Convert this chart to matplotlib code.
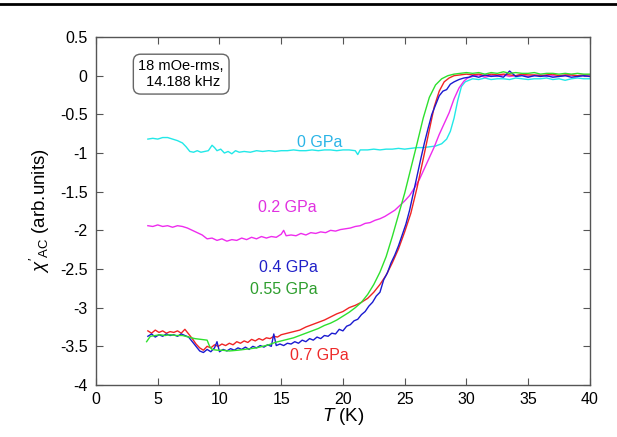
import matplotlib
matplotlib.use("Agg")
import matplotlib.pyplot as plt
from matplotlib.lines import Line2D
from matplotlib.ticker import FormatStrFormatter, MultipleLocator

plt.rcParams["font.family"] = ["Liberation Sans", "DejaVu Sans"]
plt.rcParams["mathtext.fontset"] = "custom"
plt.rcParams["mathtext.rm"] = "Liberation Sans"
plt.rcParams["mathtext.it"] = "Liberation Sans:italic"
plt.rcParams["axes.unicode_minus"] = False

# plateau above Tc, shared temperature grid
T_plateau = [30.5, 31, 31.5, 32, 32.5, 33, 33.5, 34, 34.5, 35,
             35.5, 36, 36.5, 37, 37.5, 38, 38.5, 39, 39.5, 40]

# 0 GPa (cyan)
T_0 = [4.2, 4.6, 5.0, 5.4, 5.8, 6.2, 6.6, 7.0, 7.3, 7.6, 7.9, 8.2, 8.5, 8.8, 9.1,
       9.4, 9.6, 9.8, 10.1, 10.4, 10.7, 11.0, 11.3, 11.6, 12.0, 12.5, 13, 13.5, 14,
       14.5, 15, 15.5, 16, 16.5, 17, 17.5, 18, 18.5, 19, 19.5, 20, 20.5, 21, 21.2,
       21.4, 22, 22.5, 23, 23.5, 24, 24.5, 25, 25.5, 26, 26.5, 27, 27.5, 28, 28.4,
       28.7, 29, 29.3, 29.6, 29.9, 30.2] + T_plateau
chi_0 = [-0.82, -0.81, -0.82, -0.80, -0.80, -0.82, -0.84, -0.87, -0.92, -0.98, -0.99,
         -0.97, -0.99, -0.98, -0.97, -0.90, -0.93, -0.97, -0.95, -1.00, -0.98, -1.01,
         -0.97, -0.99, -0.98, -0.99, -0.97, -0.98, -0.97, -0.98, -0.97, -0.97, -0.96,
         -0.97, -0.97, -0.96, -0.97, -0.96, -0.96, -0.97, -0.96, -0.96, -0.97, -1.02,
         -0.96, -0.96, -0.95, -0.96, -0.95, -0.95, -0.94, -0.95, -0.94, -0.93, -0.93,
         -0.92, -0.91, -0.88, -0.82, -0.72, -0.55, -0.32, -0.14, -0.08, -0.06,
         -0.04, -0.05, -0.03, -0.05, -0.04, -0.04, -0.05, -0.03, -0.04, -0.05,
         -0.04, -0.04, -0.03, -0.05, -0.04, -0.06, -0.04, -0.03, -0.04, -0.04]

# 0.2 GPa (magenta)
T_02 = [4.2, 4.6, 5.0, 5.4, 5.8, 6.2, 6.6, 7.0, 7.4, 7.8, 8.2, 8.6, 9.0, 9.4, 9.8,
        10.2, 10.6, 11.0, 11.4, 11.8, 12.2, 12.6, 13.0, 13.4, 13.8, 14.2, 14.6, 15.0,
        15.2, 15.4, 15.8, 16.2, 16.6, 17.0, 17.4, 17.8, 18.2, 18.6, 19.0, 19.4, 19.8,
        20.2, 20.6, 21.0, 21.4, 21.8, 22.2, 22.6, 23.0, 23.4, 23.8, 24.2, 24.6, 25.0,
        25.4, 25.8, 26.2, 26.6, 27.0, 27.4, 27.8, 28.2, 28.6, 29.0, 29.4, 29.8,
        30.1] + T_plateau
chi_02 = [-1.94, -1.95, -1.93, -1.95, -1.94, -1.96, -1.94, -1.95, -1.97, -2.00, -2.03,
          -2.06, -2.11, -2.10, -2.13, -2.11, -2.14, -2.12, -2.13, -2.10, -2.12, -2.09,
          -2.11, -2.08, -2.10, -2.08, -2.09, -2.05, -2.00, -2.07, -2.06, -2.07, -2.04,
          -2.06, -2.03, -2.04, -2.02, -2.03, -2.00, -2.01, -1.99, -1.98, -1.97, -1.95,
          -1.94, -1.91, -1.90, -1.87, -1.85, -1.82, -1.78, -1.74, -1.68, -1.62, -1.55,
          -1.45, -1.34, -1.20, -1.06, -0.92, -0.76, -0.62, -0.48, -0.30, -0.16, -0.07,
          -0.03,
          -0.01, 0.01, -0.02, 0.00, -0.01, 0.01, -0.01, 0.00, 0.01, -0.01,
          0.00, 0.01, -0.01, 0.00, -0.01, 0.00, 0.01, -0.01, 0.00, -0.01]

# 0.4 GPa (blue)
T_04 = [4.2, 4.5, 4.8, 5.1, 5.4, 5.7, 6.0, 6.3, 6.6, 6.9, 7.2, 7.5, 7.8, 8.1, 8.4,
        8.7, 9.0, 9.3, 9.6, 9.8, 10.0, 10.3, 10.6, 10.9, 11.2, 11.5, 11.8, 12.1, 12.4,
        12.7, 13.0, 13.3, 13.6, 13.9, 14.2, 14.4, 14.6, 14.9, 15.2, 15.5, 15.8, 16.1,
        16.4, 16.7, 17.0, 17.3, 17.6, 17.9, 18.2, 18.5, 18.8, 19.1, 19.4, 19.7, 20.0,
        20.3, 20.6, 20.9, 21.2, 21.5, 21.8, 22.1, 22.4, 22.7, 23.0, 23.3, 23.6, 23.9,
        24.2, 24.5, 24.8, 25.1, 25.4, 25.7, 26.0, 26.3, 26.6, 26.9, 27.2, 27.5, 27.8,
        28.1, 28.4, 28.7, 29.0, 29.4, 29.8, 30.2] + T_plateau
chi_04 = [-3.37, -3.34, -3.38, -3.35, -3.37, -3.34, -3.36, -3.35, -3.37, -3.34, -3.36,
          -3.38, -3.44, -3.50, -3.56, -3.58, -3.54, -3.57, -3.52, -3.44, -3.57, -3.54,
          -3.56, -3.53, -3.55, -3.52, -3.54, -3.51, -3.54, -3.50, -3.52, -3.49, -3.51,
          -3.48, -3.50, -3.34, -3.49, -3.47, -3.49, -3.46, -3.47, -3.44, -3.46, -3.42,
          -3.44, -3.40, -3.42, -3.38, -3.40, -3.36, -3.37, -3.33, -3.34, -3.28, -3.30,
          -3.24, -3.22, -3.17, -3.15, -3.09, -3.05, -2.98, -2.93, -2.85, -2.80, -2.64,
          -2.55, -2.42, -2.32, -2.20, -2.06, -1.92, -1.74, -1.52, -1.30, -1.08, -0.87,
          -0.68, -0.50, -0.38, -0.26, -0.20, -0.18, -0.11, -0.08, -0.05, -0.03, -0.02,
          0.00, -0.02, 0.01, -0.01, 0.00, -0.02, 0.06, -0.01, 0.00, -0.02,
          0.00, -0.01, 0.00, -0.02, -0.01, 0.00, -0.02, -0.01, 0.00, -0.01]

# 0.55 GPa (green)
T_055 = [4.1, 4.4, 4.8, 5.2, 5.6, 6.0, 6.5, 7.0, 7.5, 8.0, 8.5, 9.0, 9.2, 9.4, 9.8,
         10.2, 10.8, 11.5, 12, 12.5, 13, 13.5, 14, 14.5, 15, 15.5, 16, 16.5, 17, 17.5,
         18, 18.5, 19, 19.5, 20, 20.5, 21, 21.5, 22, 22.5, 23, 23.5, 24, 24.5, 25, 25.5,
         26, 26.5, 27, 27.5, 28, 28.5, 29, 29.5, 30] + T_plateau
chi_055 = [-3.44, -3.37, -3.36, -3.35, -3.36, -3.35, -3.36, -3.36, -3.38, -3.40, -3.41,
           -3.42, -3.50, -3.54, -3.55, -3.55, -3.56, -3.55, -3.54, -3.53, -3.52, -3.50,
           -3.48, -3.45, -3.43, -3.41, -3.39, -3.36, -3.33, -3.30, -3.27, -3.23, -3.20,
           -3.16, -3.11, -3.06, -3.00, -2.93, -2.83, -2.70, -2.54, -2.34, -2.08, -1.80,
           -1.52, -1.20, -0.88, -0.55, -0.28, -0.12, -0.04, 0.00, 0.02, 0.03, 0.04,
           0.03, 0.04, 0.02, 0.04, 0.03, 0.05, 0.03, 0.04, 0.03, 0.03,
           0.04, 0.02, 0.03, 0.03, 0.02, 0.03, 0.02, 0.03, 0.02, 0.02]

# 0.7 GPa (red)
T_07 = [4.2, 4.5, 4.8, 5.1, 5.4, 5.7, 6.0, 6.3, 6.6, 6.9, 7.2, 7.5, 7.8, 8.1, 8.4,
        8.7, 9.0, 9.3, 9.6, 9.9, 10.2, 10.5, 10.8, 11.1, 11.4, 11.7, 12.0, 12.3, 12.6,
        12.9, 13.2, 13.5, 13.8, 14.1, 14.4, 14.7, 15.0, 15.5, 16.0, 16.5, 17.0, 17.5,
        18.0, 18.5, 19.0, 19.5, 20.0, 20.5, 21.0, 21.5, 22.0, 22.5, 23.0, 23.5, 24.0,
        24.5, 25.0, 25.5, 26.0, 26.5, 27.0, 27.4, 27.8, 28.2, 28.6, 29.0, 29.5,
        30.0] + T_plateau
chi_07 = [-3.30, -3.33, -3.29, -3.32, -3.30, -3.33, -3.31, -3.32, -3.30, -3.33, -3.28,
          -3.34, -3.40, -3.47, -3.52, -3.55, -3.50, -3.52, -3.48, -3.50, -3.47, -3.49,
          -3.46, -3.48, -3.44, -3.46, -3.43, -3.45, -3.41, -3.43, -3.40, -3.42, -3.39,
          -3.40, -3.37, -3.38, -3.35, -3.33, -3.31, -3.29, -3.25, -3.22, -3.19, -3.16,
          -3.12, -3.08, -3.05, -3.00, -2.97, -2.93, -2.88, -2.80, -2.70, -2.58, -2.42,
          -2.24, -2.02, -1.78, -1.45, -1.08, -0.70, -0.40, -0.20, -0.08, -0.03, 0.00,
          0.01, 0.02,
          0.01, 0.02, 0.00, 0.02, 0.01, 0.02, 0.01, 0.00, 0.02, 0.01,
          0.01, 0.00, 0.01, 0.02, 0.00, 0.01, 0.01, 0.00, 0.01, 0.01]

LINE_COLORS = {"0": "#22e8e8", "0.2": "#ee2cee", "0.4": "#1a1ad0",
               "0.55": "#2ee02e", "0.7": "#f02424"}
LABEL_COLORS = {"0": "#2ab4e6", "0.2": "#e030e0", "0.4": "#2020c8",
                "0.55": "#2e9e2e", "0.7": "#ee2a2a"}
LABEL_POS = {"0": (18.1, -0.87), "0.2": (15.5, -1.71), "0.4": (15.6, -2.48),
             "0.55": (15.2, -2.76), "0.7": (18.1, -3.62)}

fig = plt.figure(figsize=(6.17, 4.37), dpi=100)
ax = fig.add_axes([0.1556, 0.119, 0.8004, 0.7963])

ax.plot(T_0, chi_0, color=LINE_COLORS["0"], lw=1.0)
ax.plot(T_02, chi_02, color=LINE_COLORS["0.2"], lw=1.0)
ax.plot(T_07, chi_07, color=LINE_COLORS["0.7"], lw=1.0)
ax.plot(T_04, chi_04, color=LINE_COLORS["0.4"], lw=1.0)
ax.plot(T_055, chi_055, color=LINE_COLORS["0.55"], lw=1.0)

for key, (tx, ty) in LABEL_POS.items():
    ax.text(tx, ty, f"{key} GPa", color=LABEL_COLORS[key], fontsize=11.5,
            ha="center", va="center")

ax.text(6.9, 0.02, "18 mOe-rms,\n 14.188 kHz", fontsize=10.5, ha="center", va="center",
        linespacing=1.15,
        bbox=dict(boxstyle="round,pad=0.35,rounding_size=0.5", fc="white",
                  ec="#666666", lw=1.0))

ax.set_xlim(0, 40)
ax.set_ylim(-4, 0.5)
ax.xaxis.set_major_locator(MultipleLocator(5))
ax.yaxis.set_major_locator(MultipleLocator(0.5))
ax.yaxis.set_major_formatter(FormatStrFormatter("%g"))
ax.tick_params(direction="in", top=True, right=True, length=5, width=0.8,
               color="#555555", labelsize=11.5, pad=6)
ax.tick_params(axis="x", pad=5)
for sp in ax.spines.values():
    sp.set_color("#555555")
    sp.set_linewidth(1.0)

ax.set_xlabel(r"$T$ (K)", fontsize=13.5, labelpad=-1)
ax.set_ylabel(r"$\chi'_{\mathrm{AC}}$ (arb.units)", fontsize=13.5, labelpad=6)

# rule across the top of the page
fig.add_artist(Line2D([0, 1], [0.99, 0.99], color="black", lw=2.0,
                      transform=fig.transFigure))

fig.savefig("out.png", dpi=100)
